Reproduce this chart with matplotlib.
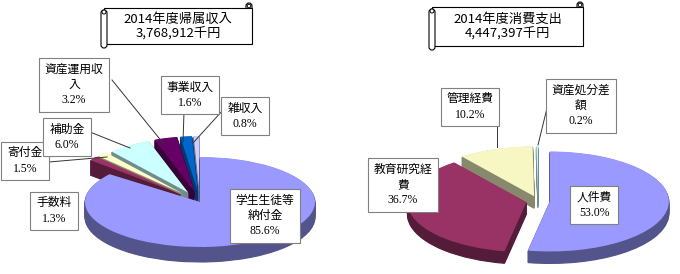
import matplotlib
matplotlib.use("Agg")
import matplotlib.pyplot as plt
from matplotlib.patches import Rectangle, FancyBboxPatch, Circle
import numpy as np

# ---- data ----
left_title = "2014年度帰属収入\n3,768,912千円"
left_labels = ["学生生徒等\n納付金", "手数料", "寄付金", "補助金", "資産運用収\n入", "事業収入", "雑収入"]
left_values = [85.6, 1.3, 1.5, 6.0, 3.2, 1.6, 0.8]
left_colors = ["#9999FF", "#993366", "#FFFFCC", "#CCFFFF", "#660066", "#0066CC", "#CCCCFF"]
left_explode = [0.0, 0.22, 0.22, 0.2, 0.2, 0.2, 0.2]

right_title = "2014年度消費支出\n4,447,397千円"
right_labels = ["人件費", "教育研究経\n費", "管理経費", "資産処分差\n額"]
right_values = [53.0, 36.7, 10.2, 0.2]
right_colors = ["#9999FF", "#993366", "#F7F7C4", "#CCFFFF"]
right_explode = [0.1, 0.1, 0.1, 0.1]

W, H = 680, 274
fig = plt.figure(figsize=(6.8, 2.74), dpi=100)
fig.patch.set_facecolor("white")

LABEL_FONT = ["Liberation Serif", "Noto Sans CJK JP", "DejaVu Sans"]
TITLE_FONT = ["Noto Sans CJK JP", "DejaVu Sans"]


def darken(c, f):
    r, g, b = matplotlib.colors.to_rgb(c)
    return (r * f, g * f, b * f)


def draw_pie(values, colors, explode, cx, cy, rx, ry, depth, show=None):
    if show is None:
        show = [True] * len(values)
    ax = fig.add_axes([0, 0, 1, 1])
    ax.patch.set_visible(False)
    n = int(depth)
    dz = depth / ry
    side = [darken(c, 0.55) for c in colors]
    for k in range(n, 0, -1):
        ws, _ = ax.pie(values, colors=side, explode=explode, startangle=90,
                       counterclock=False, center=(0, -dz * k / n), frame=False,
                       wedgeprops=dict(linewidth=0.8))
        for w, c, s in zip(ws, side, show):
            w.set_edgecolor(c)
            w.set_visible(s)
    ws, _ = ax.pie(values, colors=colors, explode=explode, startangle=90,
                   counterclock=False, center=(0, 0), frame=False,
                   wedgeprops=dict(linewidth=0))
    for w, s in zip(ws, show):
        w.set_visible(s)
    ax.set_aspect("auto")
    ax.set_xlim((0 - cx) / rx, (W - cx) / rx)
    ax.set_ylim((cy - H) / ry, cy / ry)
    ax.axis("off")
    return ax


# small slices of the left pie (seen further back, so drawn taller)
draw_pie(left_values, left_colors, left_explode, 200, 202, 115, 55, 15,
         show=[False] + [True] * (len(left_values) - 1))
# main slice of the left pie
draw_pie(left_values, left_colors, left_explode, 200, 202, 115, 45, 15,
         show=[True] + [False] * (len(left_values) - 1))
draw_pie(right_values, right_colors, right_explode, 538, 201, 119, 50, 12)

ov = fig.add_axes([0, 0, 1, 1])
ov.patch.set_visible(False)
ov.set_xlim(0, W)
ov.set_ylim(H, 0)
ov.axis("off")


def scroll(x0, x1, y0, y1, text, ty):
    ov.add_patch(Rectangle((x0, y0), x1 - x0, y1 - y0, fc="white", ec="black",
                           lw=0.8, zorder=4))
    ov.add_patch(FancyBboxPatch((x0 - 3, y0 + 2), 6, (y1 - y0) + 2,
                                boxstyle="round,pad=0,rounding_size=3",
                                fc="white", ec="black", lw=0.8, zorder=5))
    ov.add_patch(Circle((x0, y0 + 4), 2.0, fc="white", ec="black", lw=0.7, zorder=6))
    ov.add_patch(FancyBboxPatch((x1 - 6, y0 - 5), 6, 8,
                                boxstyle="round,pad=0,rounding_size=3",
                                fc="white", ec="black", lw=0.8, zorder=3))
    ov.add_patch(Circle((x1 - 3, y0 - 2), 1.8, fc="white", ec="black", lw=0.7, zorder=6))
    ov.text((x0 + x1) / 2, ty, text, ha="center", va="center", fontsize=9.5,
            family=TITLE_FONT, linespacing=1.05, zorder=7)


scroll(104, 252, 8, 44, left_title, 26)
scroll(432, 583, 7, 46, right_title, 26)


def label(x, y, name, val):
    ov.text(x, y, f"{name}\n{val:.1f}%", ha="center", va="center",
            fontsize=8.5, family=LABEL_FONT, linespacing=1.35, zorder=10,
            bbox=dict(boxstyle="square,pad=0.5", fc="white", ec="#808080", lw=0.8))


left_pos = [(265, 216), (54, 211), (25, 161), (67, 137), (74, 85), (190, 95), (245, 116)]
for (x, y), n, v in zip(left_pos, left_labels, left_values):
    label(x, y, n, v)
right_pos = [(594, 205), (403, 185), (470, 107), (581, 106)]
for (x, y), n, v in zip(right_pos, right_labels, right_values):
    label(x, y, n, v)

lines = [
    [(112, 80), (163, 143)],
    [(184, 112), (183, 142)],
    [(223, 110), (193, 143)],
    [(90, 132), (130, 148)],
    [(49, 162), (107, 157)],
    [(497, 125), (497, 147)],
    [(553, 100), (549, 100), (538, 145)],
]
for pts in lines:
    xs, ys = zip(*pts)
    ov.plot(xs, ys, color="#333333", lw=0.7, zorder=8)

fig.savefig("out.png", dpi=100, facecolor="white")
